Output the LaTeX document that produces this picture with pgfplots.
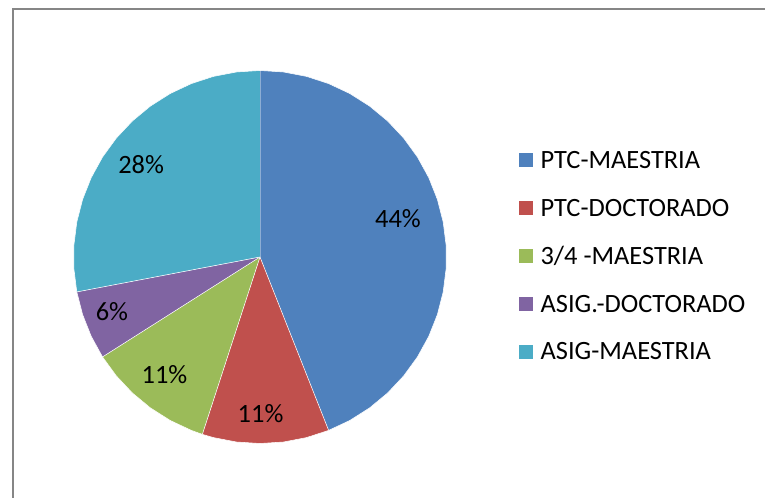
\documentclass[border=0pt]{standalone}
\usepackage{pgfplots}
\pgfplotsset{compat=1.18}
\usepgfplotslibrary{polar}
\usepackage{fontspec}
\setmainfont{Carlito}
\definecolor{cBlue}{HTML}{4F81BD}
\definecolor{cRed}{HTML}{C0504D}
\definecolor{cGreen}{HTML}{9BBB59}
\definecolor{cPurple}{HTML}{8064A2}
\definecolor{cCyan}{HTML}{4BACC6}
\definecolor{cFrame}{HTML}{868686}
\begin{document}
\begin{tikzpicture}
\useasboundingbox (0,0) rectangle (573.75pt,373.5pt);
\draw[line width=1.5pt, cFrame] (9.4pt,-5pt) -- (9.4pt,367.1pt) -- (580pt,367.1pt);
\begin{polaraxis}[
  hide axis, clip=false,
  scale only axis, width=279.75pt, height=279.75pt,
  ymin=0, ymax=1,
  at={(195pt,180.75pt)}, anchor=origin,
  % x = cumulative share in percent, clockwise from 12 o'clock
  x filter/.expression={90-3.6*x},
  font=\fontsize{19.8pt}{23pt}\selectfont,
  legend image code/.code={\fill[#1,draw=none] (0pt,-5.25pt) rectangle (10.5pt,5.25pt);},
  legend style={draw=none, fill=none, inner sep=0pt, row sep=17.4pt,
    nodes={inner sep=0pt, text height=15.5pt, text depth=3pt},
    cells={anchor=west},
    /tikz/every odd column/.append style={column sep=5.5pt},
    font=\fontsize{19.8pt}{23pt}\selectfont,
    at={(axis description cs:1.1944,0.7933)}, anchor=north west},
  legend cell align=left,
  every node/.append style={font=\fontsize{19.8pt}{23pt}\selectfont},
]
% PTC-MAESTRIA 44%
\addplot[fill=cBlue, draw=white, line width=0.4pt] coordinates {(0,0) (0,1) (2,1) (4,1) (6,1) (8,1) (10,1) (12,1) (14,1) (16,1) (18,1) (20,1) (22,1) (24,1) (26,1) (28,1) (30,1) (32,1) (34,1) (36,1) (38,1) (40,1) (42,1) (44,1)};
\addlegendentry{PTC-MAESTRIA}
% PTC-DOCTORADO 11%
\addplot[fill=cRed, draw=white, line width=0.4pt] coordinates {(44,0) (44,1) (46,1) (48,1) (50,1) (52,1) (54,1) (55,1)};
\addlegendentry{PTC-DOCTORADO}
% 3/4 -MAESTRIA 11%
\addplot[fill=cGreen, draw=white, line width=0.4pt] coordinates {(55,0) (55,1) (56,1) (58,1) (60,1) (62,1) (64,1) (66,1)};
\addlegendentry{3/4 -MAESTRIA}
% ASIG.-DOCTORADO 6%
\addplot[fill=cPurple, draw=white, line width=0.4pt] coordinates {(66,0) (66,1) (68,1) (70,1) (72,1)};
\addlegendentry{ASIG.-DOCTORADO}
% ASIG-MAESTRIA 28%
\addplot[fill=cCyan, draw=white, line width=0.4pt] coordinates {(72,0) (72,1) (74,1) (76,1) (78,1) (80,1) (82,1) (84,1) (86,1) (88,1) (90,1) (92,1) (94,1) (96,1) (98,1) (100,1)};
\addlegendentry{ASIG-MAESTRIA}
\begin{scope}[every node/.style={inner sep=0pt, text height=12.5pt, text depth=0pt, anchor=center, font=\fontsize{19.8pt}{23pt}\selectfont}]
\node at (axis cs:15.2,0.767) {44\%};
\node at (axis cs:-89.8,0.845) {11\%};
\node at (axis cs:-129,0.814) {11\%};
\node at (axis cs:-159.6,0.847) {6\%};
\node at (axis cs:142.3,0.806) {28\%};
\end{scope}
\end{polaraxis}
\end{tikzpicture}
\end{document}
